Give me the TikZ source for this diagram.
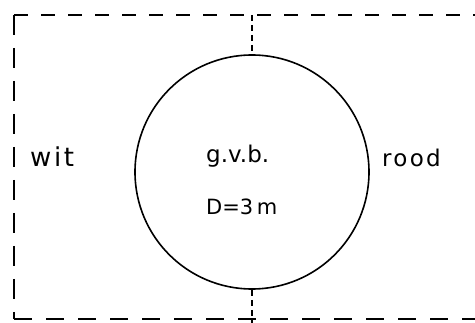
\documentclass[tikz,border=0pt]{standalone}
\usepackage{fontspec}
\setmainfont{DejaVu Sans}
\begin{document}
\begin{tikzpicture}[x=1pt,y=-1pt,
  edge/.style={line width=1.6pt,dash pattern=on 14pt off 13pt},
  vedge/.style={line width=1.6pt,dash pattern=on 20pt off 13pt},
  link/.style={line width=1.4pt,dash pattern=on 6pt off 4pt},
  lbl/.style={inner sep=0pt,anchor=base west},
  big/.style={font=\fontsize{#1}{27}\selectfont\addfontfeatures{LetterSpace=10}},
  small/.style={font=\fontsize{#1}{26}\selectfont}]
\useasboundingbox (0,0) rectangle (475,323);
\fill[white] (0,0) rectangle (475,323);
% frame
\coordinate (tl) at (14,15);
\coordinate (tr) at (478,15);
\coordinate (bl) at (14,319);
\coordinate (br) at (478,319);
% circle
\node[circle,draw,line width=1.6pt,minimum size=234pt,inner sep=0pt] (gvb) at (252,172) {};
\coordinate (ttop) at (gvb.north |- tl);
\coordinate (bbot) at (gvb.south |- 0,326);
\draw[edge] (tl) -- (tr);
\draw[vedge] (tl) -- (bl);
\draw[line width=2.2pt,dash pattern=on 18pt off 14pt] (bl) -- (br);
\draw[link] (ttop) -- (gvb.north);
\draw[link] (gvb.south) -- (bbot);
% labels
\node[lbl,big=26] (wit) at (30,167) {wit};
\node[lbl,big=23] (rood) at (382,167) {rood};
\node[lbl,small=23] (name) at (206,163) {g.v.b.};
\node[lbl,small=21] (diam) at (206,215) {D=3\,m};
\end{tikzpicture}
\end{document}
